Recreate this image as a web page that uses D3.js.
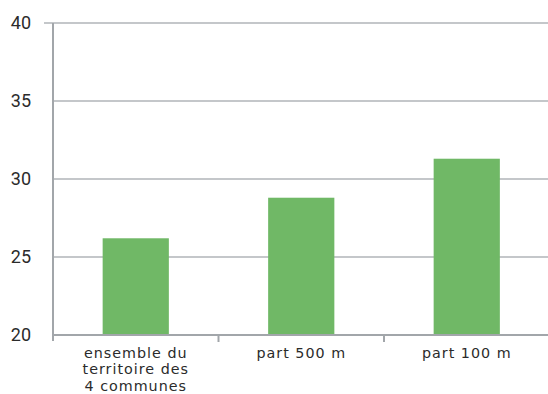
<!DOCTYPE html>
<html>
<head>
<meta charset="utf-8">
<script src="https://cdn.jsdelivr.net/npm/d3@7"></script>
<style>
  html, body { margin: 0; padding: 0; background: #fff; }
  svg { display: block; }
</style>
</head>
<body>
<svg id="chart" width="548" height="394"></svg>
<script>
// Categories (multi-line labels) and values
const categories = ["ensemble du territoire des 4 communes", "part 500 m", "part 100 m"];
const categoryLines = [["ensemble du", "territoire des", "4 communes"], ["part 500 m"], ["part 100 m"]];
const values = [26.2, 28.8, 31.3];
const yTicks = [20, 25, 30, 35, 40];

const svg = d3.select("#chart");
const W = 548;
const plotLeft = 53, plotRight = 549.5, plotTop = 23, plotBottom = 335;

const x = d3.scaleBand().domain(categories).range([plotLeft, plotRight]).paddingInner(0).paddingOuter(0);
const y = d3.scaleLinear().domain([20, 40]).range([plotBottom, plotTop]);

const gridColor = "#c4c7ca";
const axisColor = "#a2a6aa";
const textColor = "#2b2b2b";

// Horizontal gridlines
svg.append("g")
  .selectAll("line")
  .data(yTicks.filter(t => t > 20))
  .join("line")
  .attr("x1", d => d === 40 ? plotLeft - 9 : plotLeft)
  .attr("x2", W)
  .attr("y1", d => y(d))
  .attr("y2", d => y(d))
  .attr("stroke", gridColor)
  .attr("stroke-width", 2);

// Y tick labels
svg.append("g")
  .selectAll("text")
  .data(yTicks)
  .join("text")
  .attr("x", 31)
  .attr("y", d => y(d))
  .attr("dy", "0.35em")
  .attr("text-anchor", "end")
  .attr("font-family", "Roboto, sans-serif")
  .attr("font-size", 18)
  .attr("fill", textColor)
  .text(d => d);

// Bars
const barW = x.bandwidth() * 0.4;
svg.append("g")
  .selectAll("rect")
  .data(values)
  .join("rect")
  .attr("x", (d, i) => x(categories[i]) + x.bandwidth() / 2 - barW / 2)
  .attr("width", barW)
  .attr("y", d => y(d))
  .attr("height", d => y(20) - y(d))
  .attr("fill", "#70b866");

// Y axis line
svg.append("line")
  .attr("x1", plotLeft).attr("x2", plotLeft)
  .attr("y1", plotTop).attr("y2", plotBottom + 6)
  .attr("stroke", axisColor).attr("stroke-width", 2);

// X axis line
svg.append("line")
  .attr("x1", plotLeft).attr("x2", W)
  .attr("y1", plotBottom).attr("y2", plotBottom)
  .attr("stroke", axisColor).attr("stroke-width", 2);

// Category boundary ticks
svg.append("g")
  .selectAll("line")
  .data(categories.slice(1))
  .join("line")
  .attr("x1", d => x(d)).attr("x2", d => x(d))
  .attr("y1", plotBottom).attr("y2", plotBottom + 7)
  .attr("stroke", axisColor).attr("stroke-width", 2);

// Category labels
const labels = svg.append("g")
  .selectAll("text")
  .data(categoryLines)
  .join("text")
  .attr("text-anchor", "middle")
  .attr("font-family", "'DejaVu Sans', sans-serif")
  .attr("font-size", 14.3)
  .attr("letter-spacing", 1)
  .attr("fill", textColor)
  .attr("transform", (d, i) => `translate(${x(categories[i]) + x.bandwidth() / 2},0)`);

labels.selectAll("tspan")
  .data(d => d)
  .join("tspan")
  .attr("x", 0)
  .attr("y", (d, j) => 357.5 + j * 16.5)
  .text(d => d);
</script>
</body>
</html>
